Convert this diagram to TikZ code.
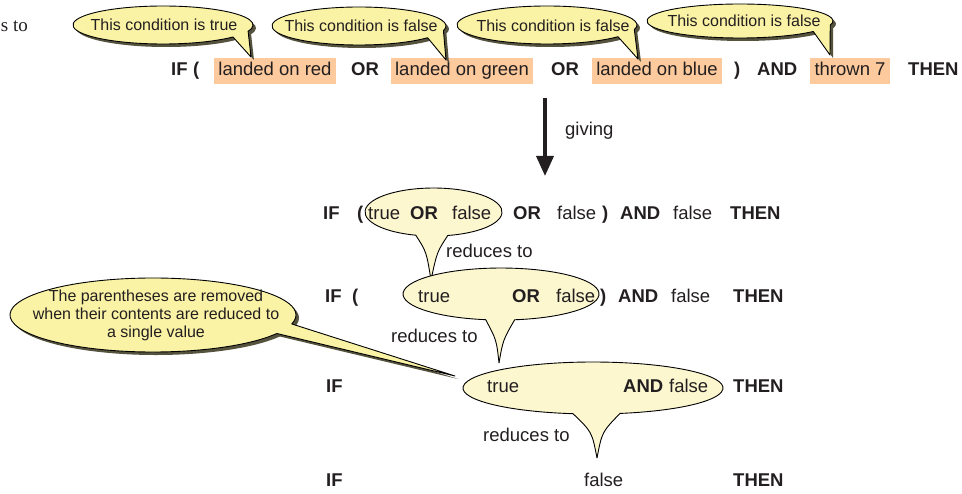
\documentclass[tikz,border=0pt]{standalone}
\usepackage{fontspec}
\setmainfont{Liberation Sans}
\newfontfamily\serifface{Liberation Serif}
\usetikzlibrary{arrows.meta}

\definecolor{ink}{RGB}{35,31,32}
\definecolor{condfill}{RGB}{252,202,156}
\definecolor{notefill}{RGB}{250,243,165}
\definecolor{bubblefill}{RGB}{252,247,207}
\definecolor{shade}{RGB}{85,82,62}

% speech balloon: ellipse (cx,cy,rx,ry) with a straight tail between
% parametric angles t1<t2 ending at the tip (tx,ty)
% #1 style, #2 cx, #3 cy, #4 rx, #5 ry, #6 t1, #7 t2, #8 tx, #9 ty
\newcommand\speech[9]{%
  \path[#1] (#2,#3) ++(#7:#4 and #5)
    arc[start angle=#7, end angle=#6+360, x radius=#4, y radius=#5]
    -- (#8,#9) -- cycle;}
\newcommand\shadedspeech[8]{%
  \speech{fill=shade, shift={(3,3)}}{#1}{#2}{#3}{#4}{#5}{#6}{#7}{#8}%
  \speech{fill=notefill, draw=black, line width=0.9pt, line join=round}{#1}{#2}{#3}{#4}{#5}{#6}{#7}{#8}}

\begin{document}
\begin{tikzpicture}[x=1pt, y=-1pt,
  every node/.style={inner sep=0pt, text=ink},
  word/.style={anchor=base west, font=\fontsize{18.5}{22}\selectfont},
  kw/.style={anchor=base west, font=\fontsize{18.5}{22}\selectfont\bfseries},
  cond/.style={anchor=base, fill=condfill, font=\fontsize{18.5}{22}\selectfont,
    text height=13.5pt, text depth=4pt, inner xsep=4.5pt, inner ysep=4.25pt},
  note/.style={anchor=base, font=\fontsize{16}{18}\selectfont},
  bubble/.style={fill=bubblefill, draw=black, line width=0.9pt, line join=round}]

\useasboundingbox (0,0) rectangle (962,494);

% reduction balloons (behind the text)
\path[bubble] (431,280) .. controls (426.5,252) .. (415.8,235.2)
  arc[start angle=105, end angle=438, x radius=68.5, y radius=24]
  .. controls (437,252) .. (431,280) -- cycle;
\path[bubble] (499,363) .. controls (496.5,340) .. (485.7,319.7)
  arc[start angle=99, end angle=442, x radius=98, y radius=26]
  .. controls (503,340) .. (499,363) -- cycle;
\path[bubble] (597,458) .. controls (592,432) .. (573,413.7)
  arc[start angle=98.85, end angle=438.01, x radius=130, y radius=26]
  .. controls (602,432) .. (597,458) -- cycle;

% fragment of preceding text
\node[anchor=base east, font=\serifface\fontsize{19}{22}\selectfont] (frag) at (28,32) {s to};

% original condition
\node[kw]   (t-if)  at (171,76) {IF};
\node[kw]   (t-op)  at (193,76) {(};
\node[cond] (t-c1)  at (275,76) {landed on red};
\node[kw]   (t-or1) at (351,76) {OR};
\node[cond] (t-c2)  at (462,76) {landed on green};
\node[kw]   (t-or2) at (551,76) {OR};
\node[cond] (t-c3)  at (657,76) {landed on blue};
\node[kw]   (t-cp)  at (734,76) {)};
\node[kw]   (t-and) at (757,76) {AND};
\node[cond] (t-c4)  at (850,76) {thrown 7};
\node[kw]   (t-then) at (908,76) {THEN};

% giving arrow
\coordinate (g-top) at (545,98);
\coordinate (g-tip) at (545,176);
\draw[line width=3.5pt, draw=ink, -{Triangle[width=17pt,length=20pt]}] (g-top) -- (g-tip);
\node[word] (giving) at (565,136) {giving};

% step 1
\node[kw]   (a-if)  at (323,220) {IF};
\node[kw]   (a-op)  at (357,220) {(};
\node[word] (a-v1)  at (368,220) {true};
\node[kw]   (a-or1) at (410,220) {OR};
\node[word] (a-v2)  at (452,220) {false};
\node[kw]   (a-or2) at (513,220) {OR};
\node[word] (a-v3)  at (557,220) {false};
\node[kw]   (a-cp)  at (602,220) {)};
\node[kw]   (a-and) at (620,220) {AND};
\node[word] (a-v4)  at (673,220) {false};
\node[kw]   (a-then) at (730,220) {THEN};
\node[word] (red1)  at (446,258) {reduces to};

% step 2
\node[kw]   (b-if)  at (325,303) {IF};
\node[kw]   (b-op)  at (352,303) {(};
\node[word] (b-v1)  at (418,303) {true};
\node[kw]   (b-or)  at (512,303) {OR};
\node[word] (b-v2)  at (556,303) {false};
\node[kw]   (b-cp)  at (600,303) {)};
\node[kw]   (b-and) at (618,303) {AND};
\node[word] (b-v3)  at (671,303) {false};
\node[kw]   (b-then) at (733,303) {THEN};
\node[word] (red2)  at (391,343) {reduces to};

% step 3
\node[kw]   (c-if)  at (326,393) {IF};
\node[word] (c-v1)  at (487,393) {true};
\node[kw]   (c-and) at (623,393) {AND};
\node[word] (c-v2)  at (669,393) {false};
\node[kw]   (c-then) at (733,393) {THEN};
\node[word] (red3)  at (483,442) {reduces to};

% result
\node[kw]   (d-if)  at (326,486) {IF};
\node[word] (d-v)   at (584,486) {false};
\node[kw]   (d-then) at (733,486) {THEN};

% callouts on the conditions
\shadedspeech{163}{25}{90}{19}{19}{39}{251}{57}
\node[note] (n1) at (164,31) {This condition is true};
\shadedspeech{359}{26}{87}{19}{14}{38}{446}{60}
\node[note] (n2) at (361,32) {This condition is false};
\shadedspeech{547}{25}{90}{19}{14}{38}{638}{59}
\node[note] (n3) at (553,32) {This condition is false};
\shadedspeech{740}{21}{93}{17}{14}{38}{830}{55}
\node[note] (n4) at (744,27) {This condition is false};

% callout on the parentheses
\shadedspeech{153}{315}{143}{37}{14}{30}{455}{376}
\node[note, anchor=center, align=center] (n5) at (156,315)
  {The parentheses are removed\\when their contents are reduced to\\a single value};
\end{tikzpicture}
\end{document}
